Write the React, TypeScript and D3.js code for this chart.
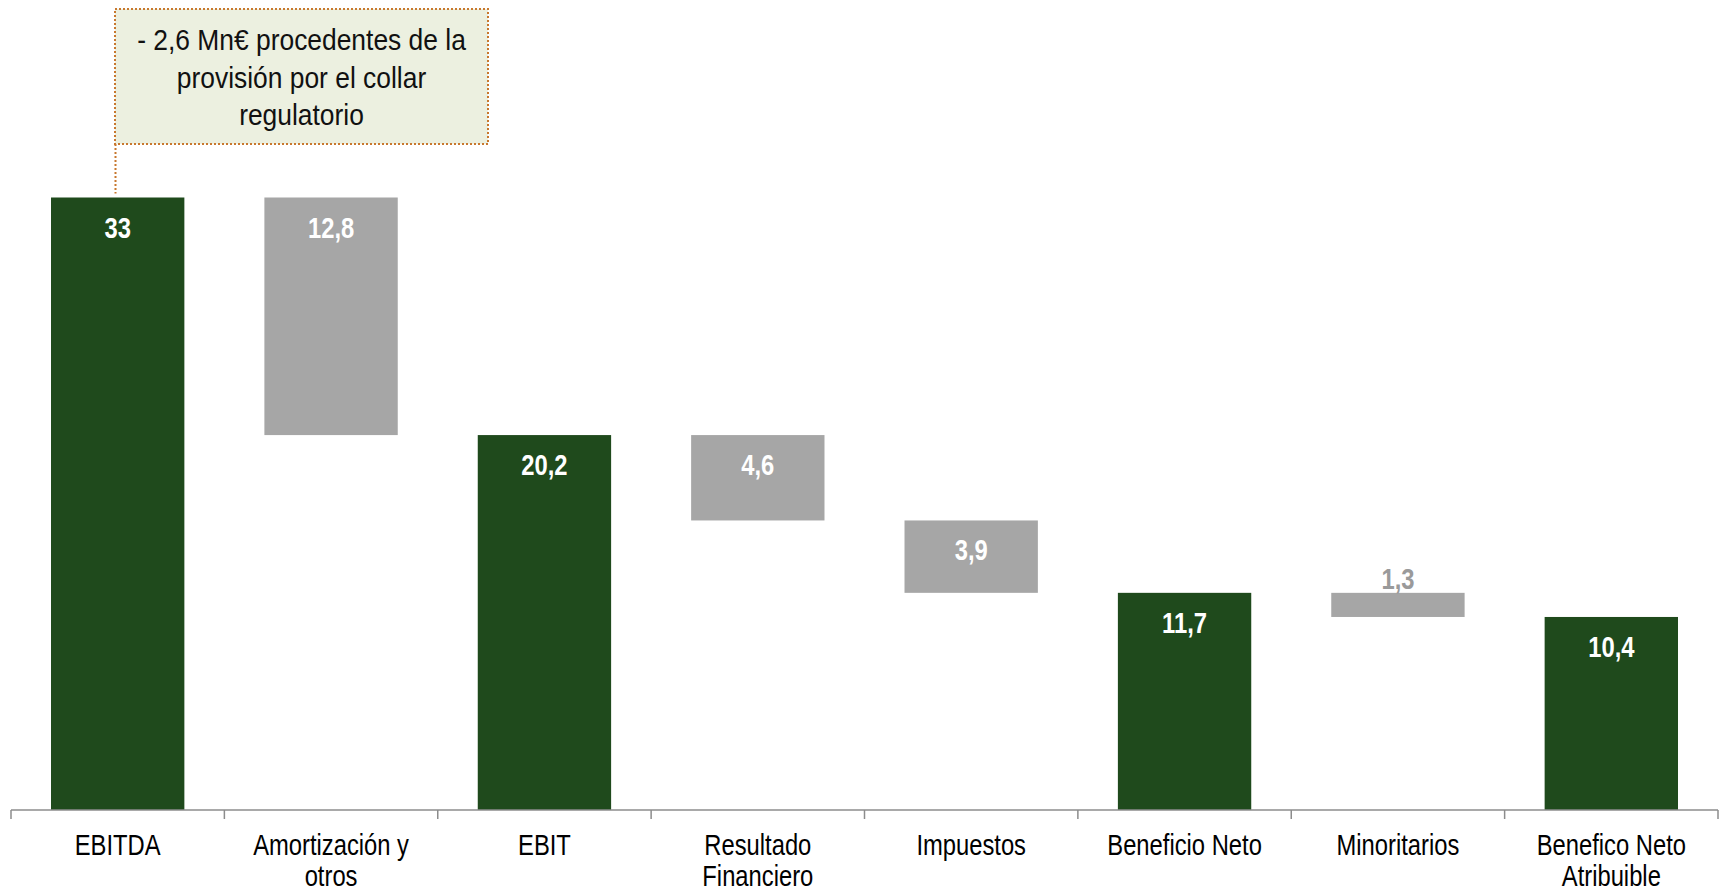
import React from "react";
import * as d3 from "d3";

const categories: string[][] = [
  ["EBITDA"],
  ["Amortización y", "otros"],
  ["EBIT"],
  ["Resultado", "Financiero"],
  ["Impuestos"],
  ["Beneficio Neto"],
  ["Minoritarios"],
  ["Benefico Neto", "Atribuible"],
];
const values: number[] = [33, -12.8, 20.2, -4.6, -3.9, 11.7, -1.3, 10.4];
const isTotal: boolean[] = [true, false, true, false, false, true, false, true];
const valueLabels: string[] = ["33", "12,8", "20,2", "4,6", "3,9", "11,7", "1,3", "10,4"];
const annotationLines: string[] = [
  "- 2,6 Mn€ procedentes de la",
  "provisión por el collar",
  "regulatorio",
];

const W = 1721;
const H = 892;
const FONT = "'Liberation Sans Narrow', 'Arial Narrow', 'Liberation Sans', Arial, sans-serif";
const GREEN = "#1F4A1C";
const GREY = "#A6A6A6";
const NARROW = 0.82;

function NText(props: { x: number; y: number; size: number; fill: string; bold?: boolean; sx?: number; children: React.ReactNode }) {
  return (
    <text
      transform={`translate(${props.x},${props.y}) scale(${props.sx ?? NARROW},1)`}
      textAnchor="middle"
      fontSize={props.size}
      fontWeight={props.bold ? "bold" : "normal"}
      fill={props.fill}
    >
      {props.children}
    </text>
  );
}

export default function App() {
  const keys = categories.map((_, i) => String(i));
  const x = d3.scaleBand<string>().domain(keys).range([11, 1718]).paddingInner(0.375).paddingOuter(0.1875);
  const y = d3.scaleLinear().domain([0, 33]).range([810, 197.5]);

  let running = 0;
  const bars = values.map((v, i) => {
    let lo: number, hi: number;
    if (isTotal[i]) {
      lo = 0;
      hi = v;
      running = v;
    } else {
      hi = running;
      lo = running + v;
      running = lo;
    }
    return { i, lo, hi, total: isTotal[i] };
  });

  const step = x.step();
  const tickXs = d3.range(categories.length + 1).map((k) => 11 + k * step);
  const connX = 115.5;

  return (
    <svg width={W} height={H} style={{ position: "absolute", left: 0, top: 0, background: "#fff" }} fontFamily={FONT}>
      {bars.map((b) => {
        const x0 = x(String(b.i))!;
        const top = y(b.hi);
        const bot = y(b.lo);
        const h = bot - top;
        const cx = x0 + x.bandwidth() / 2;
        const small = h < 45;
        return (
          <g key={b.i}>
            <rect x={x0} y={top} width={x.bandwidth()} height={h} fill={b.total ? GREEN : GREY} />
            <NText x={cx} y={small ? top - 4 : top + 40} size={29} bold fill={small ? "#9A9A9A" : "#FFFFFF"}>
              {valueLabels[b.i]}
            </NText>
          </g>
        );
      })}
      <line x1={11} x2={1718} y1={y(0)} y2={y(0)} stroke="#8C8C8C" strokeWidth={1.5} />
      {tickXs.map((tx, k) => (
        <line key={k} x1={tx} x2={tx} y1={y(0)} y2={y(0) + 9} stroke="#8C8C8C" strokeWidth={1.5} />
      ))}
      {categories.map((lines, i) => {
        const cx = x(String(i))! + x.bandwidth() / 2;
        return (
          <g key={i}>
            {lines.map((l, j) => (
              <NText key={j} x={cx} y={855 + j * 31} size={29} fill="#000">
                {l}
              </NText>
            ))}
          </g>
        );
      })}
      <rect x={115} y={9} width={373} height={135} fill="#ECF0E0" stroke="#C8782E" strokeWidth={2} strokeDasharray="2,2" />
      <line x1={connX} x2={connX} y1={144} y2={y(values[0]) - 4} stroke="#C8782E" strokeWidth={2} strokeDasharray="2,2" />
      {annotationLines.map((l, j) => (
        <NText key={j} x={301.5} y={50 + j * 37.5} size={30} sx={0.88} fill="#111">
          {l}
        </NText>
      ))}
    </svg>
  );
}
